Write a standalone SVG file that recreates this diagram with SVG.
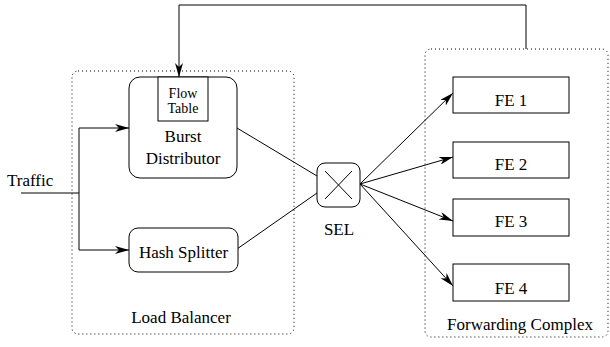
<svg xmlns="http://www.w3.org/2000/svg" width="610" height="347" viewBox="0 0 610 347">
<defs>
<marker id="ah" markerWidth="14" markerHeight="8" refX="14" refY="4" orient="auto" markerUnits="userSpaceOnUse"><path d="M0,0 L14,4 L0,8 L4,4 Z" fill="#000"/></marker>
</defs>
<rect width="610" height="347" fill="#fff"/>
<g id="load-balancer"><rect x="72" y="71" width="222" height="263" rx="6" fill="none" stroke="#000" stroke-dasharray="1 3"/><text x="181" y="323" font-family="Liberation Serif" font-size="17" text-anchor="middle">Load Balancer</text></g>
<g id="forwarding-complex"><rect x="425" y="49" width="183" height="288" rx="6" fill="none" stroke="#000" stroke-dasharray="1 3"/><text x="520" y="330" font-family="Liberation Serif" font-size="17" text-anchor="middle">Forwarding Complex</text></g>
<g id="connectors" fill="none" stroke="#000" stroke-width="1">
<line x1="21" y1="193" x2="79" y2="193"/>
<line x1="79" y1="128" x2="79" y2="250"/>
<line x1="79" y1="128" x2="129" y2="128" marker-end="url(#ah)"/>
<line x1="79" y1="250" x2="129" y2="250" marker-end="url(#ah)"/>
<line x1="237" y1="128" x2="317" y2="176"/>
<line x1="237" y1="249" x2="317" y2="193"/>
<line x1="360" y1="184" x2="453" y2="93" marker-end="url(#ah)"/>
<line x1="360" y1="184" x2="453" y2="157" marker-end="url(#ah)"/>
<line x1="360" y1="184" x2="453" y2="221" marker-end="url(#ah)"/>
<line x1="360" y1="184" x2="453" y2="286" marker-end="url(#ah)"/>
<polyline points="526,49 526,5 179,5 179,77" marker-end="url(#ah)"/>
</g>
<g id="burst-distributor"><rect x="129" y="77" width="108" height="101" rx="11" fill="#fff" stroke="#000"/><text x="183" y="142" font-family="Liberation Serif" font-size="17" text-anchor="middle">Burst</text><text x="183" y="164" font-family="Liberation Serif" font-size="17" text-anchor="middle">Distributor</text></g>
<g id="flow-table"><rect x="158" y="77" width="50" height="44" fill="#fff" stroke="#000"/><text x="183" y="98" font-family="Liberation Serif" font-size="14" text-anchor="middle">Flow</text><text x="183" y="113" font-family="Liberation Serif" font-size="14" text-anchor="middle">Table</text></g>
<g id="hash-splitter"><rect x="129" y="228" width="109" height="44" rx="9" fill="#fff" stroke="#000"/><text x="183.5" y="258" font-family="Liberation Serif" font-size="17" text-anchor="middle">Hash Splitter</text></g>
<g id="traffic"><text x="7" y="186" font-family="Liberation Serif" font-size="17">Traffic</text></g>
<g id="sel"><rect x="317" y="163" width="43" height="44" rx="8" fill="#fff" stroke="#000"/><line x1="325" y1="171" x2="352" y2="199" stroke="#000"/><line x1="352" y1="171" x2="325" y2="199" stroke="#000"/><text x="339" y="235" font-family="Liberation Serif" font-size="17" text-anchor="middle">SEL</text></g>
<g id="fe1"><rect x="453" y="77" width="116" height="36" fill="#fff" stroke="#000"/><text x="511" y="106" font-family="Liberation Serif" font-size="17" text-anchor="middle">FE 1</text></g>
<g id="fe2"><rect x="453" y="142" width="116" height="36" fill="#fff" stroke="#000"/><text x="511" y="170" font-family="Liberation Serif" font-size="17" text-anchor="middle">FE 2</text></g>
<g id="fe3"><rect x="453" y="199" width="116" height="37" fill="#fff" stroke="#000"/><text x="511" y="227" font-family="Liberation Serif" font-size="17" text-anchor="middle">FE 3</text></g>
<g id="fe4"><rect x="453" y="264" width="116" height="37" fill="#fff" stroke="#000"/><text x="511" y="294" font-family="Liberation Serif" font-size="17" text-anchor="middle">FE 4</text></g>
</svg>
